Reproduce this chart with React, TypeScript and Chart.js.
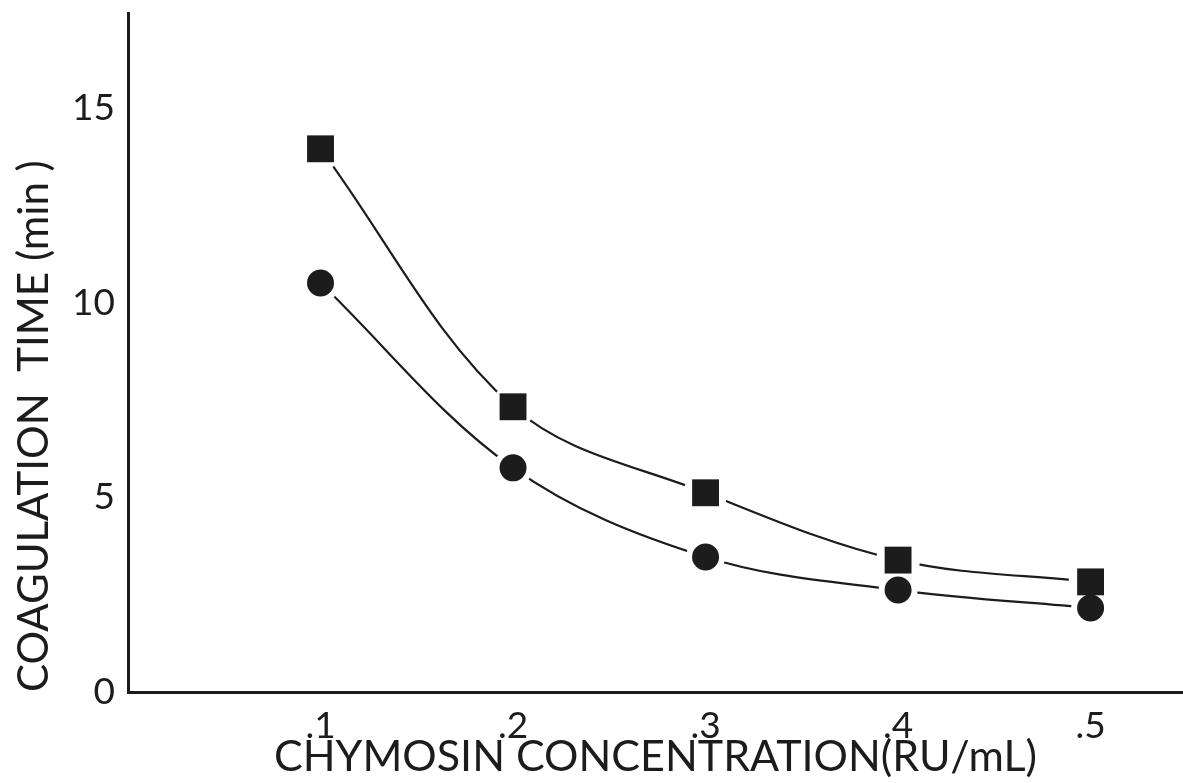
import React, { useEffect, useRef } from 'react';
import { Chart, registerables } from 'chart.js';

Chart.register(...registerables);

const concentrations = [0.1, 0.2, 0.3, 0.4, 0.5];
const squareTimes = [13.96, 7.33, 5.12, 3.39, 2.83];
const circleTimes = [10.51, 5.76, 3.47, 2.62, 2.16];
const xTickValues = [0.1, 0.2, 0.3, 0.4, 0.5];
const xTickLabels = ['.1', '.2', '.3', '.4', '.5'];
const yTickValues = [0, 5, 10, 15];
const yTickLabels = ['0', '5', '10', '15'];
const xTitle = 'CHYMOSIN CONCENTRATION(RU/mL)';
const yTitle = 'COAGULATION  TIME (min )';

const INK = '#1c1c1c';
const FONT = 'Lato, "Open Sans", sans-serif';

const noPadding = (scale: any) => {
  scale.paddingTop = 0;
  scale.paddingBottom = 0;
  scale.paddingLeft = 0;
  scale.paddingRight = 0;
};

export default function App() {
  const canvasRef = useRef<HTMLCanvasElement | null>(null);

  useEffect(() => {
    const canvas = canvasRef.current;
    if (!canvas) return;
    const toPts = (ys: number[]) => concentrations.map((x, i) => ({ x, y: ys[i] }));

    const chart = new Chart(canvas, {
      type: 'scatter',
      data: {
        datasets: [
          {
            label: 'squares',
            data: toPts(squareTimes),
            showLine: false,
            pointStyle: 'rect',
            pointRadius: 19,
            pointBackgroundColor: INK,
            pointBorderWidth: 0,
            order: 0,
          },
          {
            label: 'circles',
            data: toPts(circleTimes),
            showLine: false,
            pointStyle: 'circle',
            pointRadius: 13.5,
            pointBackgroundColor: INK,
            pointBorderWidth: 0,
            order: 0,
          },
          {
            label: 'squares curve',
            data: toPts(squareTimes),
            showLine: true,
            borderColor: INK,
            borderWidth: 2.2,
            tension: 0.35,
            pointStyle: 'circle',
            pointRadius: 22,
            pointBackgroundColor: '#ffffff',
            pointBorderWidth: 0,
            order: 1,
          },
          {
            label: 'circles curve',
            data: toPts(circleTimes),
            showLine: true,
            borderColor: INK,
            borderWidth: 2.2,
            tension: 0.35,
            pointStyle: 'circle',
            pointRadius: 19.5,
            pointBackgroundColor: '#ffffff',
            pointBorderWidth: 0,
            order: 1,
          },
        ],
      },
      options: {
        animation: false,
        responsive: true,
        maintainAspectRatio: false,
        layout: { autoPadding: false, padding: { top: 13, right: 0, bottom: 0, left: 0 } },
        plugins: {
          legend: { display: false },
          tooltip: { enabled: false },
        },
        events: [],
        scales: {
          x: {
            type: 'linear',
            min: 0,
            max: 0.548,
            grid: { display: false, drawTicks: false },
            border: { display: true, width: 3, color: INK },
            afterBuildTicks: (scale: any) => {
              scale.ticks = xTickValues.map((v) => ({ value: v }));
            },
            afterFit: (scale: any) => {
              scale.height = 91;
              noPadding(scale);
            },
            ticks: {
              padding: 12,
              color: INK,
              font: { family: FONT, size: 37, weight: '400' },
              callback: (v: any) => {
                const i = xTickValues.findIndex((t) => Math.abs(t - Number(v)) < 1e-6);
                return i >= 0 ? xTickLabels[i] : '';
              },
            },
            title: {
              display: true,
              text: xTitle,
              color: INK,
              font: { family: FONT, size: 43, weight: '400' },
              padding: { top: 0, bottom: 0 },
            },
          },
          y: {
            type: 'linear',
            min: 0,
            max: 17.45,
            grid: { display: false, drawTicks: false },
            border: { display: true, width: 3, color: INK },
            afterBuildTicks: (scale: any) => {
              scale.ticks = yTickValues.map((v) => ({ value: v }));
            },
            afterFit: (scale: any) => {
              scale.width = 128;
              noPadding(scale);
            },
            ticks: {
              padding: 13,
              color: INK,
              font: { family: FONT, size: 37, weight: '400' },
              callback: (v: any) => {
                const i = yTickValues.findIndex((t) => Math.abs(t - Number(v)) < 1e-6);
                return i >= 0 ? yTickLabels[i] : '';
              },
            },
            title: {
              display: true,
              text: yTitle,
              align: 'start',
              color: INK,
              font: { family: FONT, size: 42, weight: '400' },
              padding: { top: 9, bottom: 0 },
            },
          },
        },
      },
    } as any);

    return () => chart.destroy();
  }, []);

  return (
    <div style={{ position: 'fixed', left: 0, top: 0, width: 1183, height: 783, background: '#ffffff' }}>
      <canvas ref={canvasRef} />
    </div>
  );
}
